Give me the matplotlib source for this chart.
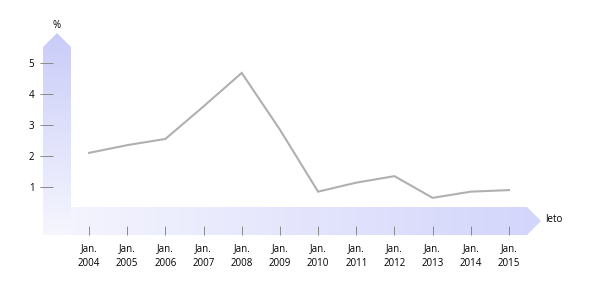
import numpy as np
import matplotlib
matplotlib.use("Agg")
import matplotlib.pyplot as plt
from matplotlib.patches import Polygon
from matplotlib.colors import LinearSegmentedColormap

plt.rcParams['font.family'] = ['Open Sans', 'DejaVu Sans']

# data
years = ['2004', '2005', '2006', '2007', '2008', '2009',
         '2010', '2011', '2012', '2013', '2014', '2015']
values = [2.1, 2.35, 2.55, 3.6, 4.68, 2.85, 0.85, 1.14, 1.35, 0.65, 0.85, 0.9]
y_ticks = [1, 2, 3, 4, 5]
x_labels = ['Jan.\n' + y for y in years]

W, H = 596, 290
fig = plt.figure(figsize=(W / 100, H / 100), dpi=100)

# background axes in pixel coords for the gradient arrows
bg = fig.add_axes([0, 0, 1, 1])
bg.set_xlim(0, W)
bg.set_ylim(H, 0)
bg.axis('off')

dark = '#c9ccf8'
light = '#f6f6fe'

# horizontal arrow (light on the left, stronger on the right)
h_cmap = LinearSegmentedColormap.from_list('h', [light, '#d3d5fb'])
h_poly = Polygon([(43, 207), (527, 207), (541, 221), (527, 235), (43, 235)],
                 closed=True, facecolor='none', edgecolor='none')
bg.add_patch(h_poly)
grad = np.linspace(0, 1, 256).reshape(1, -1)
im = bg.imshow(grad, cmap=h_cmap, extent=(43, 541, 235, 207), aspect='auto')
im.set_clip_path(h_poly)

# vertical arrow (strong at the top, fading to the bottom)
v_cmap = LinearSegmentedColormap.from_list('v', [dark, light])
v_poly = Polygon([(43, 235), (43, 47), (57, 33), (71, 47), (71, 235)],
                 closed=True, facecolor='none', edgecolor='none')
bg.add_patch(v_poly)
grad_v = np.linspace(0, 1, 256).reshape(-1, 1)
im2 = bg.imshow(grad_v, cmap=v_cmap, extent=(43, 71, 235, 33), aspect='auto')
im2.set_clip_path(v_poly)

bg.text(57, 25, '%', fontsize=7, ha='center', va='center')
bg.text(545, 220, 'leto', fontsize=7, ha='left', va='center')

# main axes: left spine at x=53px, bottom spine at y=235px
ax = fig.add_axes([53 / W, 55 / H, (W - 53) / W, 235 / H])
ax.patch.set_alpha(0)
step = 38.18
ax.set_xlim(-36 / step, 507 / step)
ax.set_ylim(-17 / 31, 218 / 31)
for s in ax.spines.values():
    s.set_visible(False)

x = np.arange(len(years))
ax.plot(x, values, color='#b0b0b0', lw=1.5, solid_joinstyle='miter')

ax.set_yticks(y_ticks)
ax.set_yticklabels([str(v) for v in y_ticks])
ax.set_xticks(x)
ax.set_xticklabels(x_labels, linespacing=1.4)
ax.tick_params(axis='y', direction='out', length=9.4, width=0.7,
               color='#8a8a8a', pad=4, labelsize=7)
ax.tick_params(axis='x', direction='in', length=6.5, width=0.7,
               color='#8a8a8a', pad=6, labelsize=7)

fig.savefig('out.png', dpi=100)
